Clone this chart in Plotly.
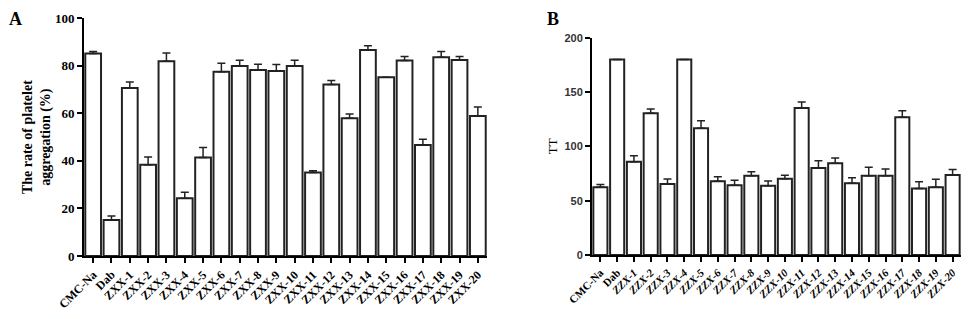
import plotly.graph_objects as go

# ---- Data ----
cats_a = ["CMC-Na", "Dab"] + [f"ZXX-{i}" for i in range(1, 21)]
vals_a = [85.2, 15.1, 70.7, 38.4, 81.9, 24.3, 41.4, 77.5, 79.9, 78.3, 77.8,
          79.9, 35.1, 72.2, 57.9, 86.7, 75.2, 82.2, 46.7, 83.6, 82.5, 58.9]
errs_a = [0.8, 1.7, 2.5, 3.3, 3.5, 2.5, 4.2, 3.6, 2.5, 2.4, 2.8,
          2.5, 0.8, 1.6, 1.8, 1.7, 0.0, 1.7, 2.4, 2.4, 1.4, 3.8]

cats_b = ["CMC-Na", "Dab"] + [f"ZZX-{i}" for i in range(1, 21)]
vals_b = [62.3, 180.0, 85.9, 130.4, 65.3, 180.0, 116.6, 67.8, 64.1, 73.0, 63.8,
          70.2, 135.3, 80.1, 84.4, 66.0, 73.0, 73.0, 126.7, 61.3, 62.3, 73.6]
errs_b = [2.7, 0.0, 5.5, 4.0, 4.6, 0.0, 7.0, 4.3, 4.6, 3.7, 4.3,
          3.1, 5.5, 6.7, 4.9, 5.2, 7.7, 6.1, 6.1, 6.1, 7.4, 5.2]

yticks_a = [0, 20, 40, 60, 80, 100]
yticks_b = [0, 50, 100, 150, 200]

# page body has an 8px margin: size the figure to fit the window
OX, OY = 8, 8
W, H = 969 - OX, 319 - OY
INK = "#222222"
SERIF = "Liberation Serif"
SANS = "Liberation Sans"

def px_x(p):
    return (p - OX) / W

def px_y(p):
    return 1 - (p - OY) / H

fig = go.Figure()

fig.add_trace(go.Bar(
    x=cats_a, y=vals_a, width=0.86,
    marker=dict(color="white", line=dict(color=INK, width=2)),
    error_y=dict(type="data", symmetric=False, array=errs_a,
                 arrayminus=[0] * len(errs_a), color=INK, thickness=1.5, width=4),
    xaxis="x", yaxis="y", showlegend=False,
))

ticktext_b = [c if not c.startswith("ZZX") else f"<i>{c}</i>" for c in cats_b]

fig.add_trace(go.Bar(
    x=cats_b, y=vals_b, width=0.84,
    marker=dict(color="white", line=dict(color=INK, width=2)),
    error_y=dict(type="data", symmetric=False, array=errs_b,
                 arrayminus=[0] * len(errs_b), color=INK, thickness=1.5, width=4),
    xaxis="x2", yaxis="y2", showlegend=False,
))

axis_common = dict(showgrid=False, zeroline=False, showline=True, linecolor="black",
                   linewidth=2, ticks="outside", tickcolor="black", tickwidth=2,
                   ticklen=5, automargin=False)

fig.update_layout(
    width=W, height=H,
    margin=dict(l=0, r=0, t=0, b=0, autoexpand=False),
    paper_bgcolor="white", plot_bgcolor="white",
    bargap=0.1,
    xaxis=dict(domain=[px_x(84), px_x(487)], anchor="y", tickangle=-45,
               tickfont=dict(family=SERIF, size=12, color="black", weight="bold"),
               categoryorder="array", categoryarray=cats_a, **axis_common),
    yaxis=dict(domain=[px_y(256), px_y(18.3)], anchor="x", range=[0, 100],
               tickvals=yticks_a,
               tickfont=dict(family=SERIF, size=13, color="black", weight="bold"),
               title=dict(text="The rate of platelet<br>aggregation (%)",
                          font=dict(family=SERIF, size=14, color="black", weight="bold"),
                          standoff=1),
               **axis_common),
    xaxis2=dict(domain=[px_x(592), px_x(961)], anchor="y2", tickangle=-45,
                tickvals=cats_b, ticktext=ticktext_b,
                tickfont=dict(family=SERIF, size=11, color="black", weight="bold"),
                categoryorder="array", categoryarray=cats_b, **axis_common),
    yaxis2=dict(domain=[px_y(255), px_y(37.7)], anchor="x2", range=[0, 200],
                tickvals=yticks_b,
                tickfont=dict(family=SANS, size=11, color="#333", weight="bold"),
                title=dict(text="TT", font=dict(family=SERIF, size=13, color="black"),
                           standoff=4),
                **axis_common),
    annotations=[
        dict(text="<b>A</b>", x=0, y=1, xref="paper", yref="paper",
             xanchor="left", yanchor="top", showarrow=False, borderpad=0,
             font=dict(family=SERIF, size=18, color="black")),
        dict(text="<b>B</b>", x=px_x(546), y=1, xref="paper", yref="paper",
             xanchor="left", yanchor="top", showarrow=False, borderpad=0,
             font=dict(family=SERIF, size=18, color="black")),
    ],
)

fig.write_html("out.html")
